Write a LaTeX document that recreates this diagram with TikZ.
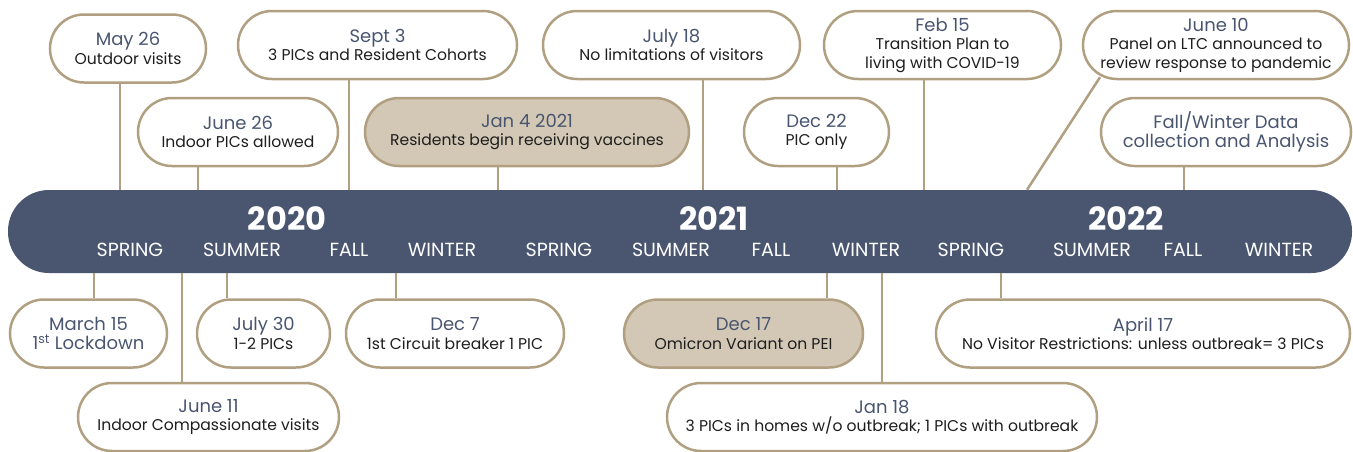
\documentclass[tikz,border=0pt]{standalone}
\usepackage{fontspec}
\setmainfont{Poppins}
\usetikzlibrary{positioning,calc}
\usepackage{xcolor}

\definecolor{navy}{HTML}{4A5570}
\definecolor{sand}{HTML}{B09F80}
\definecolor{sandfill}{HTML}{D3C8B5}
\definecolor{ink}{HTML}{1E1E1E}

\newcommand{\datef}{\fontsize{18}{19}\selectfont\color{navy}}

\begin{document}
\begin{tikzpicture}[
  x=1pt, y=-1pt,
  event/.style={draw=sand, line width=2.5pt, fill=white, rounded corners=34pt,
    minimum height=68pt, inner sep=0pt, align=center, text=ink,
    font=\fontsize{15.6}{18.5}\selectfont},
  key/.style={event, fill=sandfill},
  stem/.style={draw=sand, line width=2.5pt},
  year/.style={text=white, font=\fontsize{32}{32}\selectfont\bfseries},
  season/.style={text=white, font=\fontsize{19}{19}\selectfont}
]

\useasboundingbox (0,0) rectangle (1353,451);

% timeline bar
\node[fill=navy, rounded corners=41pt, minimum width=1344pt, minimum height=83pt,
  inner sep=0pt] (bar) at (680,231.5) {};

\node[year] (y2020) at (287,219) {2020};
\node[year] (y2021) at (714,219) {2021};
\node[year] (y2022) at (1126,219) {2022};

\foreach \x/\s [count=\i] in {130/SPRING, 242/SUMMER, 349/FALL, 442/WINTER,
    559/SPRING, 671/SUMMER, 771/FALL, 866/WINTER,
    971/SPRING, 1092/SUMMER, 1183/FALL, 1279/WINTER}
  \node[season] (s\i) at (\x,250) {\s};

% events above the bar
\node[event, minimum width=156pt] (may26) at (128,48.5)
  {{\datef May 26}\\Outdoor visits};
\node[event, minimum width=279pt] (sept3) at (377.5,45)
  {{\datef Sept 3}\\3 PICs and Resident Cohorts};
\node[event, minimum width=200pt] (june26) at (238,132)
  {{\datef June 26}\\Indoor PICs allowed};
\node[key, minimum width=324pt] (jan4) at (527,132)
  {{\datef Jan 4 2021}\\Residents begin receiving vaccines};
\node[event, minimum width=257pt] (july18) at (671.5,45)
  {{\datef July 18}\\No limitations of visitors};
\node[event, minimum width=145pt] (dec22) at (816.5,132)
  {{\datef Dec 22}\\PIC only};
\node[event, minimum width=237pt] (feb15) at (942.5,45)
  {{\datef Feb 15}\\Transition Plan to\\living with COVID-19};
\node[event, minimum width=266pt] (june10) at (1216,45)
  {{\datef June 10}\\Panel on LTC announced to\\review response to pandemic};
\node[event, minimum width=250pt] (fallwinter) at (1226,132)
  {{\datef Fall/Winter Data}\\{\datef collection and Analysis}};

\draw[stem] ([xshift=-8pt]may26.south) -- ([xshift=-8pt]may26.south |- bar.north);
\draw[stem] ([xshift=-28.5pt]sept3.south) -- ([xshift=-28.5pt]sept3.south |- bar.north);
\draw[stem] ([xshift=-40pt]june26.south) -- ([xshift=-40pt]june26.south |- bar.north);
\draw[stem] ([xshift=-29pt]jan4.south) -- ([xshift=-29pt]jan4.south |- bar.north);
\draw[stem] ([xshift=31.5pt]july18.south) -- ([xshift=31.5pt]july18.south |- bar.north);
\draw[stem] ([xshift=20.5pt]dec22.south) -- ([xshift=20.5pt]dec22.south |- bar.north);
\draw[stem] ([xshift=-18.5pt]feb15.south) -- ([xshift=-18.5pt]feb15.south |- bar.north);
\coordinate (june10foot) at ($(bar.north)+(347,0)$);
\draw[stem] ([xshift=-116pt,yshift=3pt]june10.south) -- (june10foot);
\draw[stem] ([xshift=-42pt]fallwinter.south) -- ([xshift=-42pt]fallwinter.south |- bar.north);

% events below the bar
\node[event, minimum width=157pt] (mar15) at (88.5,333.5)
  {{\datef March 15}\\{\datef 1\textsuperscript{st} Lockdown}};
\node[event, minimum width=133pt] (jul30) at (263.5,333.5)
  {{\datef July 30}\\1-2 PICs};
\node[event, minimum width=261pt] (jun11) at (208.5,417)
  {{\datef June 11}\\Indoor Compassionate visits};
\node[event, minimum width=218pt] (dec7) at (455,333.5)
  {{\datef Dec 7}\\1st Circuit breaker 1 PIC};
\node[key, minimum width=239pt] (dec17) at (743.5,333.5)
  {{\datef Dec 17}\\Omicron Variant on PEI};
\node[event, minimum width=430pt] (jan18) at (882,417)
  {{\datef Jan 18}\\3 PICs in homes w/o outbreak; 1 PICs with outbreak};
\node[event, minimum width=414pt] (apr17) at (1143,333.5)
  {{\datef April 17}\\No Visitor Restrictions: unless outbreak= 3 PICs};

\draw[stem] ([xshift=5.5pt]mar15.north) -- ([xshift=5.5pt]mar15.north |- bar.south);
\draw[stem] ([xshift=-36.5pt]jul30.north) -- ([xshift=-36.5pt]jul30.north |- bar.south);
\draw[stem] ([xshift=-26.5pt]jun11.north) -- ([xshift=-26.5pt]jun11.north |- bar.south);
\draw[stem] ([xshift=-59pt]dec7.north) -- ([xshift=-59pt]dec7.north |- bar.south);
\draw[stem] ([xshift=83.5pt]dec17.north) -- ([xshift=83.5pt]dec17.north |- bar.south);
\draw[stem] (jan18.north) -- (jan18.north |- bar.south);
\draw[stem] ([xshift=-142pt]apr17.north) -- ([xshift=-142pt]apr17.north |- bar.south);

\end{tikzpicture}
\end{document}
